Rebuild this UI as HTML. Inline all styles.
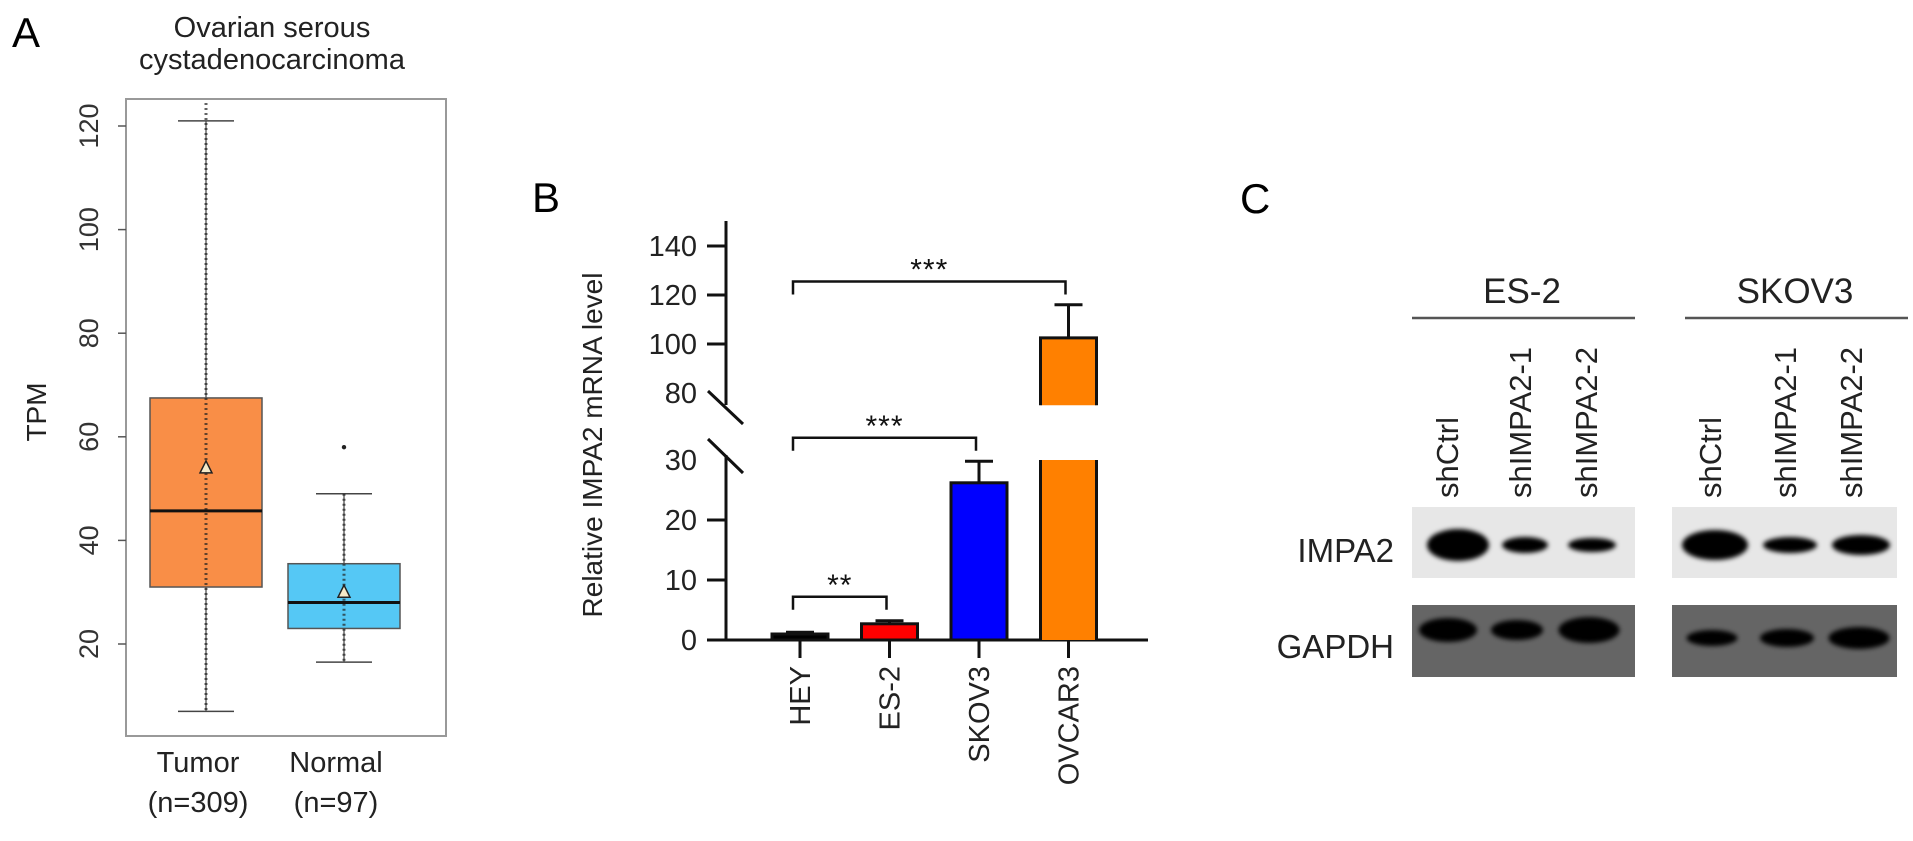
<!DOCTYPE html>
<html><head><meta charset="utf-8"><style>
html,body{margin:0;padding:0;background:#fff;}
svg{display:block;font-family:"Liberation Sans",Arial,sans-serif;}
</style></head><body>
<svg id="fig" width="1913" height="841" viewBox="0 0 1913 841">
<defs><filter id="blur" x="-50%" y="-50%" width="200%" height="200%"><feGaussianBlur stdDeviation="2.5"/></filter></defs>
<g id="panelA">
<text x="12" y="47" font-size="42">A</text>
<text x="272" y="37" font-size="29" text-anchor="middle" fill="#222">Ovarian serous</text>
<text x="272" y="69" font-size="29" text-anchor="middle" fill="#222">cystadenocarcinoma</text>
<rect x="126" y="99" width="320" height="637" fill="none" stroke="#999" stroke-width="2"/>
<text transform="translate(46,412) rotate(-90)" font-size="28" text-anchor="middle" fill="#222">TPM</text>
</g>
<g id="panelB">
<text x="532" y="212" font-size="42">B</text>
<text transform="translate(602,445) rotate(-90)" font-size="28" text-anchor="middle" fill="#222">Relative IMPA2 mRNA level</text>
</g>
<g id="panelC">
<text x="1240" y="213" font-size="42">C</text>
</g>
</svg>
<script>
var NS="http://www.w3.org/2000/svg";
var svg=document.getElementById('fig');
function mk(t,a,p){var e=document.createElementNS(NS,t);for(var k in a)e.setAttribute(k,a[k]);(p||svg).appendChild(e);return e;}

// ---------- Panel A data ----------
var aGroups=["Tumor","Normal"];
var aCounts=["(n=309)","(n=97)"];
var aQ1=[31,23];
var aMedian=[45.7,28];
var aQ3=[67.5,35.5];
var aMean=[54,30];
var aWhiskLo=[7,16.5];
var aWhiskHi=[121,49];
var aOutliers=[[],[58]];
var aTicks=[20,40,60,80,100,120];
var aColors=["#f98e47","#55c8f5"];

var pA=document.getElementById('panelA');
function yA(v){return 644-(v-20)*5.18;}
function xA(i){return 206+i*138;}
aTicks.forEach(function(t){
  var l=mk('line',{x1:118,x2:126,y1:yA(t),y2:yA(t),stroke:'#555','stroke-width':1.5},pA);
  
  
  var tx=mk('text',{transform:'translate(98,'+yA(t)+') rotate(-90)','font-size':27,'text-anchor':'middle',fill:'#333'},pA);
  tx.textContent=t;
  
  
});
aGroups.forEach(function(g,i){
  var cx=xA(i), hw=56;
  var gg=mk('g',{},pA);
  
  
  mk('line',{x1:cx,x2:cx,y1:yA(aWhiskHi[i]),y2:yA(aWhiskLo[i]),stroke:'#444','stroke-width':1.2},gg);
  mk('line',{x1:cx-28,x2:cx+28,y1:yA(aWhiskHi[i]),y2:yA(aWhiskHi[i]),stroke:'#444','stroke-width':1.5},gg);
  mk('line',{x1:cx-28,x2:cx+28,y1:yA(aWhiskLo[i]),y2:yA(aWhiskLo[i]),stroke:'#444','stroke-width':1.5},gg);
  mk('rect',{x:cx-hw,y:yA(aQ3[i]),width:hw*2,height:yA(aQ1[i])-yA(aQ3[i]),fill:aColors[i],stroke:'#555','stroke-width':1.5},gg);
  var top=i==0?103:yA(aWhiskHi[i]);
  mk('line',{x1:cx,x2:cx,y1:top,y2:yA(aWhiskLo[i]),stroke:'#222','stroke-width':3,'stroke-dasharray':'2 3',opacity:0.7},gg);
  mk('line',{x1:cx-hw,x2:cx+hw,y1:yA(aMedian[i]),y2:yA(aMedian[i]),stroke:'#111','stroke-width':3},gg);
  var my=yA(aMean[i]);
  mk('polygon',{points:(cx-6)+','+(my+5)+' '+(cx+6)+','+(my+5)+' '+cx+','+(my-7),fill:'#f4e9c8',stroke:'#222','stroke-width':1.5},gg);
  aOutliers[i].forEach(function(o){mk('circle',{cx:cx,cy:yA(o),r:2.2,fill:'#222'},gg);});
  var t1=mk('text',{x:cx-8,y:772,'font-size':29,'text-anchor':'middle',fill:'#222'},pA);
  t1.textContent=g;
  
  
  var t2=mk('text',{x:cx-8,y:812,'font-size':29,'text-anchor':'middle',fill:'#222'},pA);
  t2.textContent=aCounts[i];
  
  
});

// ---------- Panel B data ----------
var bCats=["HEY","ES-2","SKOV3","OVCAR3"];
var bValues=[1.0,2.7,26.2,102.5];
var bErrors=[0.3,0.5,3.6,13.5];
var bColors=["#000000","#ff0000","#0000ff","#ff8000"];
var bLowTicks=[0,10,20,30];
var bHighTicks=[80,100,120,140];
var bSigFrom=[0,0,0];
var bSigTo=[1,2,3];
var bSigHeight=[7.2,33.7,125.5];
var bSigSegment=["low","low","high"];
var bSigLabels=["**","***","***"];

var pB=document.getElementById('panelB');
var AX=726, BASE=640;
function yLow(v){return BASE-v*6.0;}
function yHigh(v){return 393-(v-80)*2.45;}
function yB(v){return v<=30?yLow(v):yHigh(v);}
function xB(i){return 800+i*89.5;}
mk('line',{x1:AX,x2:AX,y1:221,y2:405,stroke:'#111','stroke-width':3},pB);
mk('line',{x1:AX,x2:AX,y1:455,y2:BASE,stroke:'#111','stroke-width':3},pB);
mk('line',{x1:708,x2:743,y1:391,y2:424,stroke:'#111','stroke-width':3},pB);
mk('line',{x1:708,x2:743,y1:439,y2:473,stroke:'#111','stroke-width':3},pB);
mk('line',{x1:707,x2:1148,y1:BASE,y2:BASE,stroke:'#111','stroke-width':3},pB);
bLowTicks.concat(bHighTicks).forEach(function(t){
  var y=yB(t);
  if(t!==30&&t!==80){
    var l=mk('line',{x1:707,x2:AX,y1:y,y2:y,stroke:'#111','stroke-width':3},pB);
    
    
  }
  var tx=mk('text',{x:697,y:y+10,'font-size':29,'text-anchor':'end',fill:'#222'},pB);
  tx.textContent=t;
  
  
});
bCats.forEach(function(c,i){
  var cx=xB(i), hw=28, v=bValues[i];
  var g=mk('g',{},pB);
  
  
  var ye=yB(v+bErrors[i]);
  mk('line',{x1:cx,x2:cx,y1:ye,y2:yB(v),stroke:'#111','stroke-width':3},g);
  mk('line',{x1:cx-14,x2:cx+14,y1:ye,y2:ye,stroke:'#111','stroke-width':3},g);
  if(v>30){
    mk('rect',{x:cx-hw,y:yB(30),width:hw*2,height:BASE-yB(30),fill:bColors[i]},g);
    mk('line',{x1:cx-hw,x2:cx-hw,y1:yB(30),y2:BASE,stroke:'#111','stroke-width':3},g);
    mk('line',{x1:cx+hw,x2:cx+hw,y1:yB(30),y2:BASE,stroke:'#111','stroke-width':3},g);
    mk('rect',{x:cx-hw,y:yB(v),width:hw*2,height:yB(75)-yB(v),fill:bColors[i]},g);
    mk('path',{d:'M'+(cx-hw)+' '+yB(75)+'V'+yB(v)+'H'+(cx+hw)+'V'+yB(75),fill:'none',stroke:'#111','stroke-width':3},g);
  } else {
    mk('rect',{x:cx-hw,y:yB(v),width:hw*2,height:BASE-yB(v),fill:bColors[i],stroke:'#111','stroke-width':3},g);
  }
  mk('line',{x1:cx,x2:cx,y1:BASE,y2:658,stroke:'#111','stroke-width':3},pB);
  var tx=mk('text',{transform:'translate('+(cx+10)+',666) rotate(-90)','font-size':29,'text-anchor':'end',fill:'#222'},pB);
  tx.textContent=c;
  
  
});
bSigFrom.forEach(function(a,k){
  var x1=xB(a)-7,x2=xB(bSigTo[k])-3;
  var y=bSigSegment[k]==="low"?yLow(bSigHeight[k]):yHigh(bSigHeight[k]);
  var p=mk('path',{d:'M'+x1+' '+(y+13)+'V'+y+'H'+x2+'V'+(y+13),fill:'none',stroke:'#111','stroke-width':2.5},pB);
  
  
  var t=mk('text',{x:(x1+x2)/2,y:y-2,'font-size':30,'text-anchor':'middle',fill:'#111','letter-spacing':'1'},pB);
  t.textContent=bSigLabels[k];
  
  
});

// ---------- Panel C (western blot) ----------
var cCells=["ES-2","SKOV3"];
var cLanes=["shCtrl","shIMPA2-1","shIMPA2-2"];
var cImpaW=[[56,40,42],[60,48,52]];
var cImpaH=[[30,14,12],[28,14,18]];
var cGapW=[[52,46,55],[45,48,55]];
var cGapH=[[22,18,24],[14,16,20]];
var pC=document.getElementById('panelC');
var blotX=[1412,1672], blotW=[223,225];
var laneX=[[1447,1520,1586],[1710,1785,1851]];
var bandX=[[1458,1525,1592],[1715,1790,1861]];
var gapX=[[1448,1517,1589],[1712,1787,1859]];
cCells.forEach(function(c,ci){
  var l=mk('line',{x1:ci?1685:1412,x2:ci?1908:1635,y1:318,y2:318,stroke:'#555','stroke-width':2.5},pC);
  
  
  var t=mk('text',{x:ci?1795:1522,y:303,'font-size':35,'text-anchor':'middle',fill:'#222'},pC);
  t.textContent=c;
  
  
  cLanes.forEach(function(ln,li){
    var tx=mk('text',{transform:'translate('+(laneX[ci][li]+11)+',498) rotate(-90)','font-size':31,fill:'#222'},pC);
    tx.textContent=ln;
    
    
  });
  var b1=mk('rect',{x:blotX[ci],y:507,width:blotW[ci],height:71,fill:'#e7e7e7'},pC);
  
  
  var b2=mk('rect',{x:blotX[ci],y:605,width:blotW[ci],height:72,fill:'#656565'},pC);
  
  
  cLanes.forEach(function(ln,li){
    var e=mk('ellipse',{cx:bandX[ci][li],cy:545,rx:cImpaW[ci][li]/2+3,ry:cImpaH[ci][li]/2+1,fill:'#000',filter:'url(#blur)'},pC);
    
    
    var g=mk('ellipse',{cx:gapX[ci][li],cy:ci?638:630,rx:cGapW[ci][li]/2+3,ry:cGapH[ci][li]/2+1,fill:'#000',filter:'url(#blur)'},pC);
    
    
  });
});
var r1=mk('text',{x:1394,y:562,'font-size':33,'text-anchor':'end',fill:'#222'},pC);
r1.textContent='IMPA2';


var r2=mk('text',{x:1394,y:658,'font-size':33,'text-anchor':'end',fill:'#222'},pC);
r2.textContent='GAPDH';


</script>
</body></html>
